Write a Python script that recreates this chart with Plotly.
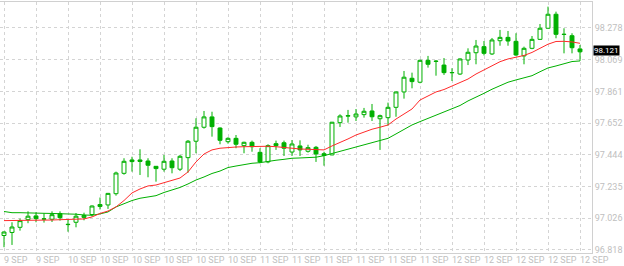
import plotly.graph_objects as go

# ---- data ----
opens = [96.913, 96.933, 96.967, 97.017, 97.042, 97.020, 97.020, 97.057, 96.987, 97.000,
         97.032, 97.051, 97.104, 97.114, 97.188, 97.322, 97.410, 97.410, 97.403, 97.368,
         97.349, 97.403, 97.349, 97.425, 97.533, 97.625, 97.693, 97.620, 97.530, 97.552,
         97.504, 97.526, 97.460, 97.397, 97.517, 97.523, 97.462, 97.502, 97.467, 97.493,
         97.451, 97.443, 97.655, 97.698, 97.693, 97.708, 97.732, 97.681, 97.688, 97.756,
         97.857, 97.947, 97.921, 98.065, 98.060, 98.034, 97.983, 97.975, 98.067, 98.115,
         98.155, 98.107, 98.194, 98.216, 98.190, 98.094, 98.144, 98.203, 98.276, 98.368,
         98.237, 98.227, 98.140]
highs = [96.940, 97.000, 97.024, 97.072, 97.066, 97.059, 97.072, 97.072, 97.018, 97.061,
         97.063, 97.111, 97.163, 97.193, 97.333, 97.421, 97.431, 97.480, 97.421, 97.370,
         97.443, 97.421, 97.443, 97.541, 97.684, 97.732, 97.727, 97.624, 97.559, 97.574,
         97.530, 97.537, 97.487, 97.513, 97.537, 97.537, 97.541, 97.539, 97.510, 97.502,
         97.464, 97.660, 97.710, 97.739, 97.745, 97.752, 97.778, 97.708, 97.787, 97.860,
         97.995, 97.984, 98.070, 98.094, 98.067, 98.080, 98.013, 98.078, 98.144, 98.199,
         98.192, 98.212, 98.265, 98.258, 98.243, 98.155, 98.225, 98.304, 98.418, 98.385,
         98.276, 98.243, 98.166]
lows = [96.836, 96.851, 96.945, 96.994, 97.000, 96.998, 97.002, 97.011, 96.938, 96.967,
        97.013, 97.038, 97.084, 97.088, 97.175, 97.313, 97.333, 97.311, 97.296, 97.267,
        97.333, 97.322, 97.337, 97.326, 97.454, 97.616, 97.563, 97.513, 97.517, 97.487,
        97.454, 97.464, 97.388, 97.388, 97.476, 97.436, 97.436, 97.436, 97.458, 97.397,
        97.372, 97.441, 97.627, 97.655, 97.666, 97.688, 97.666, 97.476, 97.635, 97.694,
        97.813, 97.881, 97.914, 98.017, 97.964, 97.969, 97.929, 97.969, 98.034, 98.039,
        98.097, 98.100, 98.161, 98.161, 98.094, 98.039, 98.138, 98.199, 98.274, 98.210,
        98.111, 98.111, 98.061]
closes = [96.936, 96.969, 97.011, 97.040, 97.024, 97.023, 97.050, 97.030, 96.985, 97.040,
          97.045, 97.107, 97.117, 97.190, 97.324, 97.401, 97.399, 97.400, 97.375, 97.353,
          97.401, 97.359, 97.434, 97.533, 97.625, 97.693, 97.629, 97.539, 97.552, 97.513,
          97.526, 97.497, 97.397, 97.504, 97.504, 97.487, 97.515, 97.476, 97.491, 97.449,
          97.439, 97.658, 97.699, 97.701, 97.712, 97.730, 97.694, 97.701, 97.756, 97.857,
          97.954, 97.925, 98.065, 98.039, 98.058, 97.984, 97.985, 98.074, 98.118, 98.159,
          98.111, 98.199, 98.216, 98.192, 98.100, 98.144, 98.203, 98.276, 98.368, 98.236,
          98.235, 98.148, 98.121]
ma_fast = [97.011, 97.011, 97.012, 97.013, 97.013, 97.015, 97.015, 97.017, 97.019, 97.020,
           97.022, 97.035, 97.058, 97.074, 97.101, 97.143, 97.193, 97.219, 97.239, 97.245,
           97.262, 97.275, 97.291, 97.331, 97.397, 97.449, 97.476, 97.487, 97.493, 97.495,
           97.497, 97.499, 97.502, 97.500, 97.497, 97.491, 97.487, 97.482, 97.480, 97.480,
           97.476, 97.502, 97.523, 97.548, 97.574, 97.594, 97.612, 97.625, 97.640, 97.679,
           97.712, 97.745, 97.804, 97.831, 97.857, 97.873, 97.896, 97.923, 97.942, 97.975,
           98.002, 98.028, 98.056, 98.074, 98.084, 98.097, 98.117, 98.144, 98.171, 98.189,
           98.190, 98.186, 98.177]
ma_slow = [97.071, 97.063, 97.063, 97.063, 97.061, 97.059, 97.058, 97.057, 97.055, 97.053,
           97.048, 97.046, 97.055, 97.068, 97.101, 97.124, 97.143, 97.158, 97.167, 97.175,
           97.196, 97.211, 97.229, 97.252, 97.278, 97.298, 97.321, 97.337, 97.360, 97.370,
           97.380, 97.388, 97.392, 97.401, 97.408, 97.414, 97.421, 97.423, 97.425, 97.428,
           97.438, 97.452, 97.467, 97.480, 97.495, 97.508, 97.522, 97.538, 97.552, 97.581,
           97.612, 97.640, 97.662, 97.684, 97.706, 97.727, 97.745, 97.768, 97.798, 97.821,
           97.848, 97.875, 97.900, 97.921, 97.936, 97.949, 97.964, 97.990, 98.015, 98.028,
           98.044, 98.057, 98.061]
x_tick_labels = ["9 SEP", "9 SEP", "10 SEP", "10 SEP", "10 SEP", "10 SEP", "10 SEP", "10 SEP",
                 "11 SEP", "11 SEP", "11 SEP", "11 SEP", "11 SEP", "11 SEP",
                 "12 SEP", "12 SEP", "12 SEP", "12 SEP", "12 SEP"]
y_tick_values = [96.818, 97.026, 97.235, 97.444, 97.652, 97.861, 98.069, 98.278]
last_price = 98.121

xs = list(range(len(opens)))
x_ticks = list(range(0, len(opens), 4))

GREEN = "#00b000"
RED = "#ff2a2a"
GRID = "#d4d4d4"
TXT = "#c0c0c0"
FONT = "Roboto"

fig = go.Figure()
fig.add_trace(go.Scatter(x=xs, y=ma_slow, mode="lines", line=dict(color=GREEN, width=1), hoverinfo="skip"))
fig.add_trace(go.Scatter(x=xs, y=ma_fast, mode="lines", line=dict(color=RED, width=1), hoverinfo="skip"))
fig.add_trace(go.Candlestick(
    x=xs, open=opens, high=highs, low=lows, close=closes,
    increasing=dict(line=dict(color=GREEN, width=1), fillcolor="white"),
    decreasing=dict(line=dict(color=GREEN, width=1), fillcolor=GREEN),
    whiskerwidth=0,
))

annotations = []
for xv, lab in zip(x_ticks, x_tick_labels):
    annotations.append(dict(x=xv, xref="x", y=0, yref="paper", yanchor="top", xanchor="left",
                            xshift=-2, yshift=0, text=lab, showarrow=False,
                            font=dict(family=FONT, size=9, color=TXT)))
annotations.append(dict(x=1, xref="paper", y=last_price, yref="y", xanchor="left", yanchor="middle",
                        xshift=1, yshift=1, text=str(last_price), showarrow=False, bgcolor="black",
                        borderpad=0, font=dict(family=FONT, size=8, color="white")))

fig.update_layout(
    width=624, height=266,
    margin=dict(l=0, r=32, t=2, b=13),
    paper_bgcolor="white", plot_bgcolor="white",
    showlegend=False,
    annotations=annotations,
    xaxis=dict(range=[-0.5, 73.5], tickvals=x_ticks, showticklabels=False, ticks="",
               showgrid=True, gridcolor=GRID, griddash="3px,3px", gridwidth=1,
               showline=True, linecolor="#d0d0d0", linewidth=1, mirror=True,
               zeroline=False, rangeslider=dict(visible=False)),
    yaxis=dict(range=[96.798, 98.4486], side="right", tickvals=y_tick_values,
               ticktext=[f"{v:.3f}" for v in y_tick_values], ticks="",
               tickfont=dict(family=FONT, size=9, color=TXT),
               showgrid=True, gridcolor=GRID, griddash="3px,3px", gridwidth=1,
               showline=True, linecolor="#d0d0d0", linewidth=1, mirror=True,
               zeroline=False),
)

fig.write_html("out.html")
